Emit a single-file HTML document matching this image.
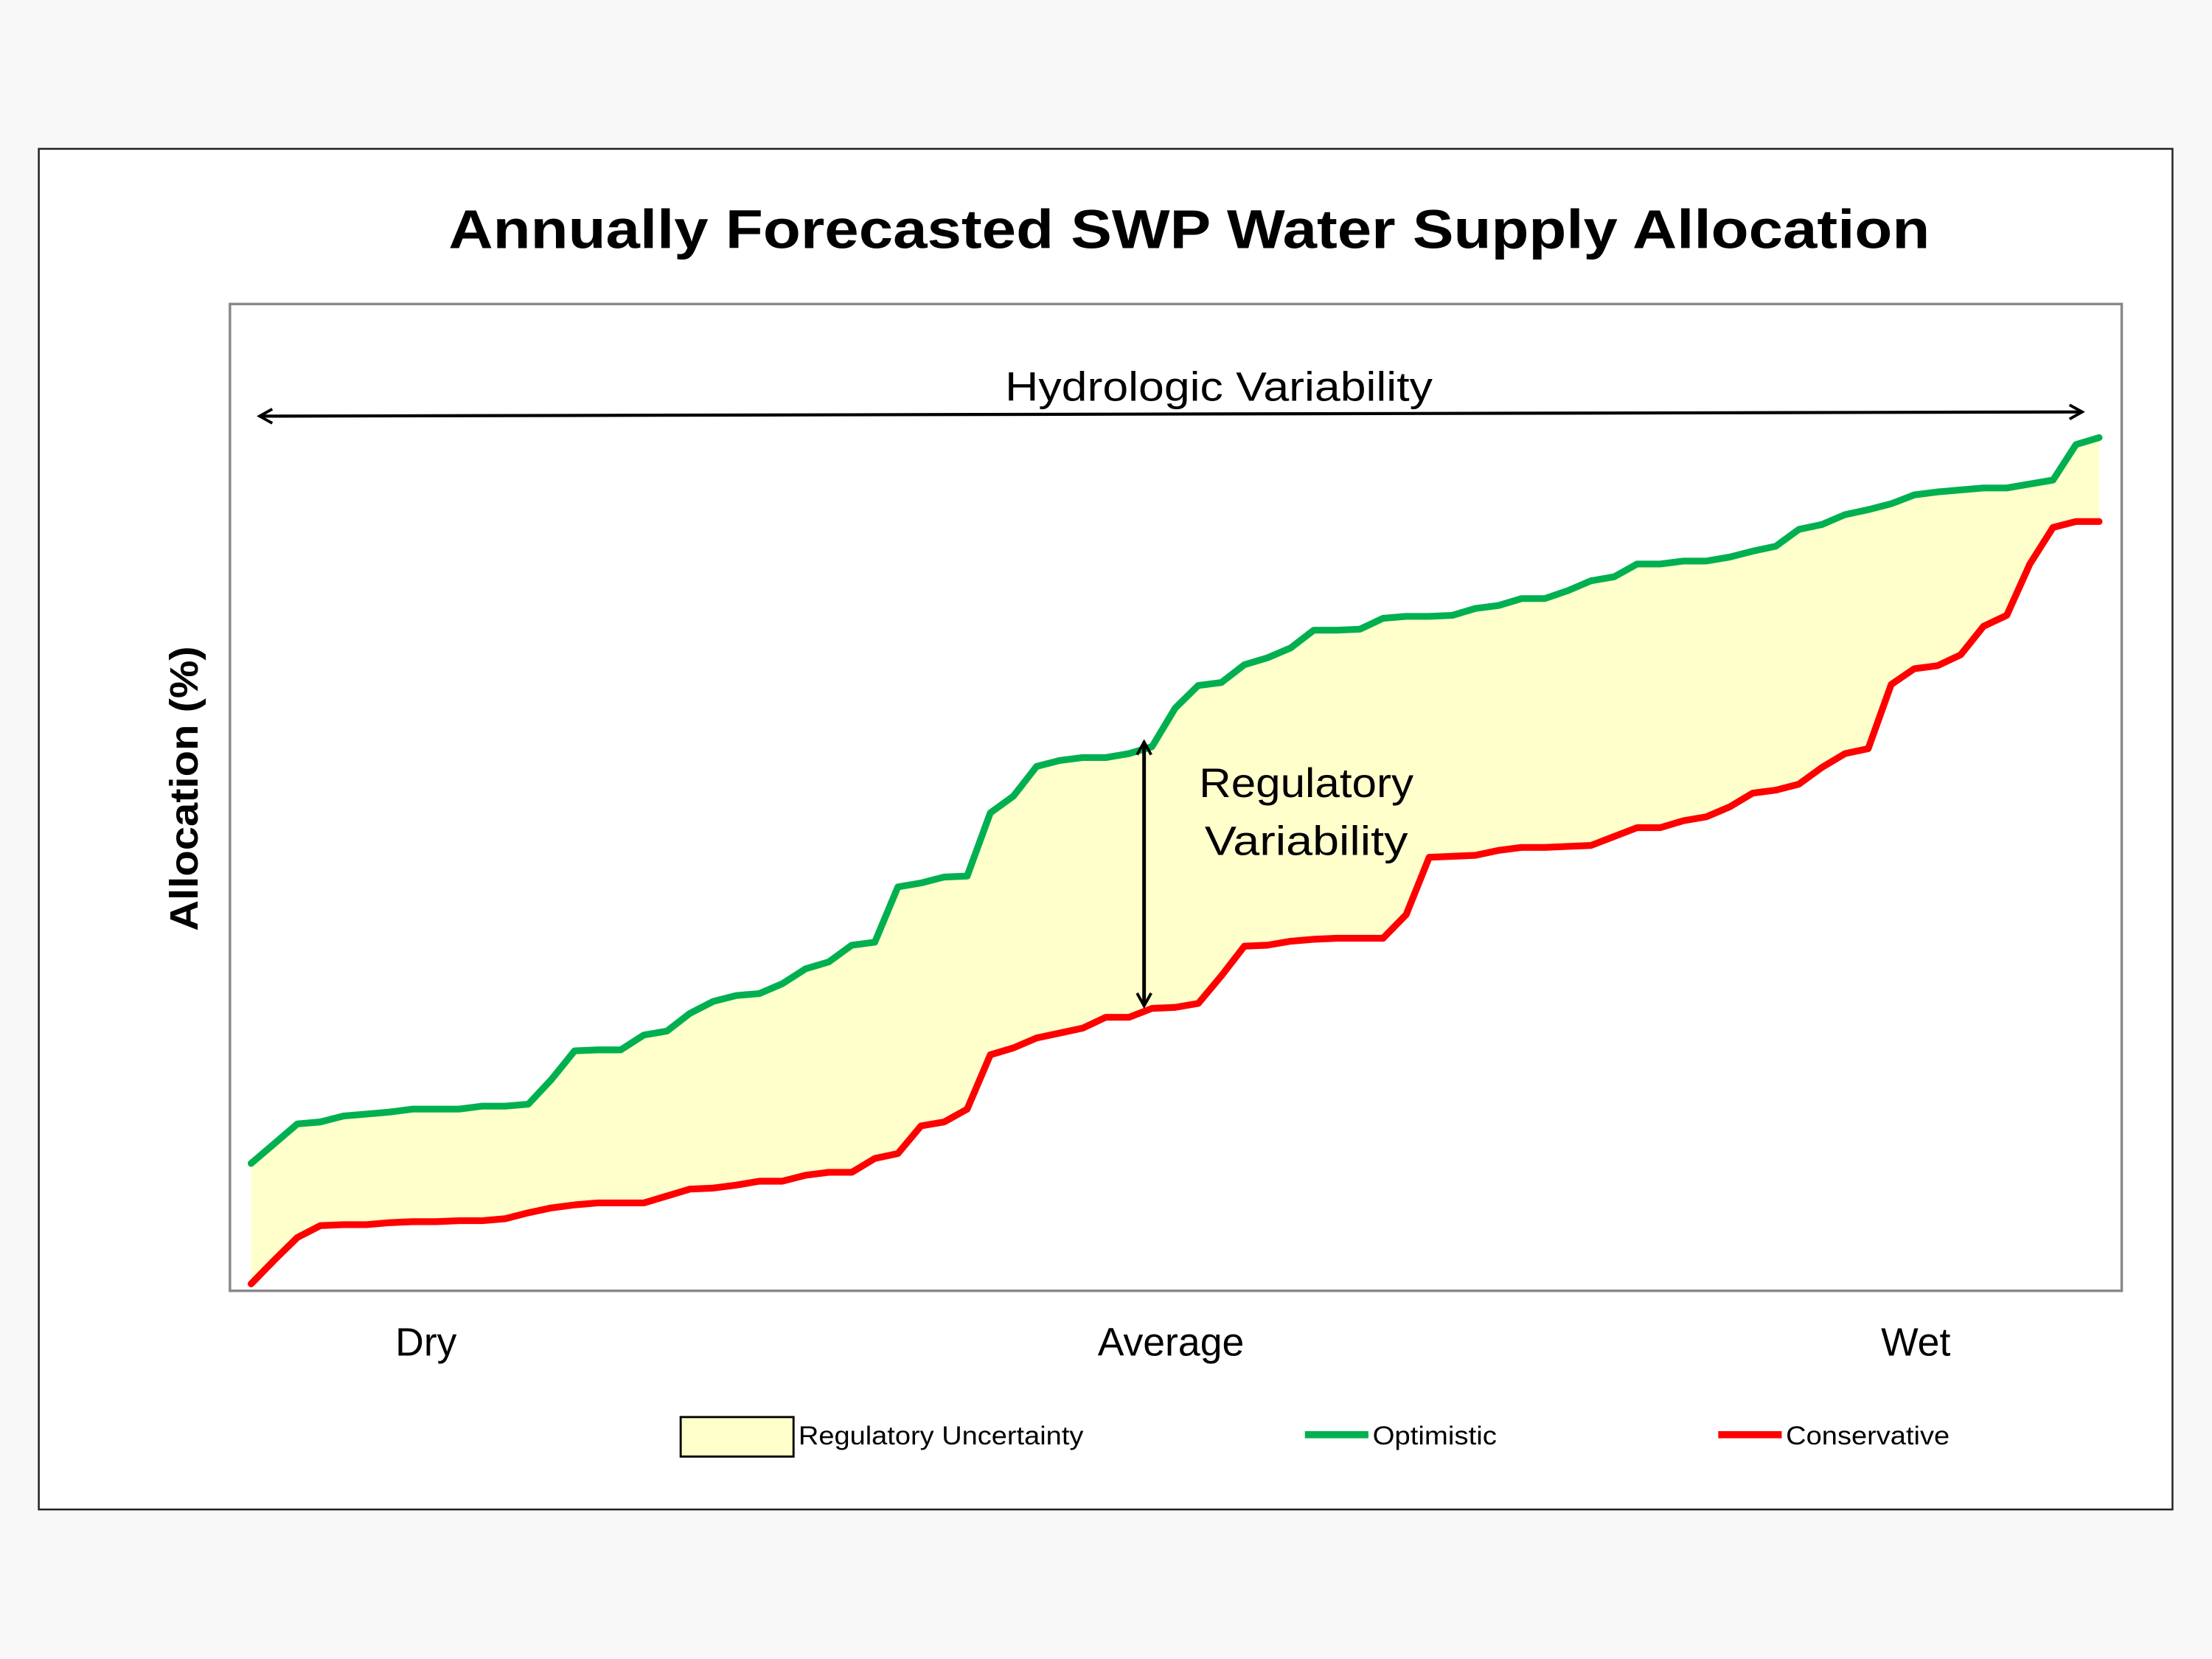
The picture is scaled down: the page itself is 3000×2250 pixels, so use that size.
<!DOCTYPE html>
<html><head><meta charset="utf-8"><style>
html,body{margin:0;padding:0;background:#f8f8f8;}
svg{display:block;}
text{font-family:"Liberation Sans",Arial,sans-serif;}
</style></head><body>
<svg id="chart" width="3000" height="2250" viewBox="0 0 1568 1176" xmlns="http://www.w3.org/2000/svg">
<rect x="0" y="0" width="1568" height="1176" fill="#f8f8f8"/>
<rect x="27.5" y="105.5" width="1512.5" height="964.5" fill="#fff" stroke="#222" stroke-width="1.3"/>
<text x="843" y="176" text-anchor="middle" font-size="39" font-weight="bold" textLength="1050" lengthAdjust="spacingAndGlyphs">Annually Forecasted SWP Water Supply Allocation</text>
<rect x="163" y="215.5" width="1341" height="699.5" fill="#fff" stroke="#888" stroke-width="1.8"/>
<g id="series"></g>
<defs>
<marker id="ah" markerWidth="12" markerHeight="12" refX="10" refY="6" orient="auto-start-reverse" markerUnits="userSpaceOnUse">
<path d="M1,1 L10,6 L1,11" fill="none" stroke="#000" stroke-width="2"/>
</marker>
</defs>
<line x1="184" y1="295" x2="1476" y2="292" stroke="#000" stroke-width="2.2" marker-start="url(#ah)" marker-end="url(#ah)"/>
<text x="864" y="284" text-anchor="middle" font-size="29" textLength="303" lengthAdjust="spacingAndGlyphs">Hydrologic Variability</text>
<line x1="811" y1="526" x2="811" y2="713" stroke="#000" stroke-width="2.6" marker-start="url(#ah)" marker-end="url(#ah)"/>
<text x="926" y="565" text-anchor="middle" font-size="29" textLength="152" lengthAdjust="spacingAndGlyphs">Regulatory</text>
<text x="926" y="606" text-anchor="middle" font-size="29" textLength="144" lengthAdjust="spacingAndGlyphs">Variability</text>
<text transform="translate(140,559) rotate(-90)" text-anchor="middle" font-size="28" font-weight="bold" textLength="202" lengthAdjust="spacingAndGlyphs">Allocation (%)</text>
<text x="302" y="961" text-anchor="middle" font-size="28">Dry</text>
<text x="830" y="961" text-anchor="middle" font-size="28">Average</text>
<text x="1358" y="961" text-anchor="middle" font-size="28">Wet</text>
<g>
<rect x="482.5" y="1004.5" width="80" height="28" fill="#ffffcc" stroke="#000" stroke-width="1.5"/>
<text x="566" y="1024" font-size="18.5" textLength="202" lengthAdjust="spacingAndGlyphs">Regulatory Uncertainty</text>
<line x1="925" y1="1017" x2="970" y2="1017" stroke="#00b050" stroke-width="5"/>
<text x="973" y="1024" font-size="18.5" textLength="88" lengthAdjust="spacingAndGlyphs">Optimistic</text>
<line x1="1218" y1="1017" x2="1263" y2="1017" stroke="#ff0000" stroke-width="5"/>
<text x="1266" y="1024" font-size="18.5" textLength="116" lengthAdjust="spacingAndGlyphs">Conservative</text>
</g>
</svg>
<script>
const optimistic = [12.9,14.9,16.9,17.1,17.7,17.9,18.1,18.4,18.4,18.4, 18.7,18.7,18.9,21.4,24.3,24.4,24.4,25.9,26.3,28.1, 29.3,29.9,30.1,31.1,32.6,33.3,35.0,35.3,40.9,41.3, 41.9,42.0,48.4,50.1,53.1,53.7,54.0,54.0,54.4,55.1, 59.0,61.3,61.6,63.4,64.1,65.1,66.9,66.9,67.0,68.1, 68.3,68.3,68.4,69.1,69.4,70.1,70.1,70.9,71.9,72.3, 73.6,73.6,73.9,73.9,74.3,74.9,75.4,77.1,77.6,78.6, 79.1,79.7,80.6,80.9,81.1,81.3,81.3,81.7,82.1,85.7, 86.4];
const conservative = [0.7,3.1,5.4,6.6,6.7,6.7,6.9,7.0,7.0,7.1, 7.1,7.3,7.9,8.4,8.7,8.9,8.9,8.9,9.6,10.3, 10.4,10.7,11.1,11.1,11.7,12.0,12.0,13.4,13.9,16.7, 17.1,18.4,23.9,24.6,25.6,26.1,26.6,27.7,27.7,28.6, 28.7,29.1,31.9,34.9,35.0,35.4,35.6,35.7,35.7,35.7, 38.1,43.9,44.0,44.1,44.6,44.9,44.9,45.0,45.1,46.0, 46.9,46.9,47.6,48.0,49.0,50.4,50.7,51.3,53.0,54.4, 54.9,61.4,63.0,63.3,64.4,67.3,68.4,73.6,77.3,77.9, 77.9];
const yMin = 0, yMax = 100;

const NS = "http://www.w3.org/2000/svg";
const X0 = 178, X1 = 1488, Y0 = 915, Y1 = 215;
function xScale(i, n){ return X0 + (X1 - X0) * i / (n - 1); }
function yScale(v){ return Y0 - (v - yMin) / (yMax - yMin) * (Y0 - Y1); }
const g = document.getElementById('series');
const ptsG = optimistic.map((v,i)=>[xScale(i, optimistic.length), yScale(v)]);
const ptsR = conservative.map((v,i)=>[xScale(i, conservative.length), yScale(v)]);

const band = document.createElementNS(NS,'polygon');
band.setAttribute('points', ptsG.concat(ptsR.slice().reverse()).map(p=>p[0].toFixed(1)+','+p[1].toFixed(1)).join(' '));
band.setAttribute('fill','#ffffcc');


g.appendChild(band);

function line(pts, color, name){
  const p = document.createElementNS(NS,'polyline');
  p.setAttribute('points', pts.map(q=>q[0].toFixed(1)+','+q[1].toFixed(1)).join(' '));
  p.setAttribute('fill','none');
  p.setAttribute('stroke',color);
  p.setAttribute('stroke-width','4.8');
  p.setAttribute('stroke-linejoin','round');
  p.setAttribute('stroke-linecap','round');
  
  
  g.appendChild(p);
}
line(ptsR, '#ff0000', 'conservative-line');
line(ptsG, '#00b050', 'optimistic-line');
</script>
</body></html>
